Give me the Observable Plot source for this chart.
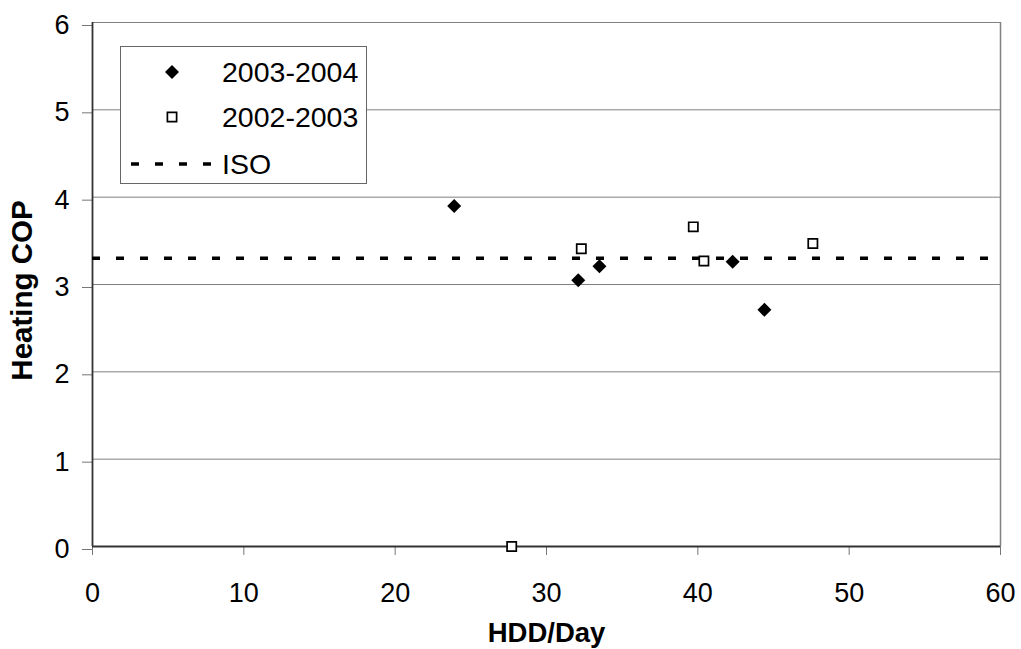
<!DOCTYPE html>
<html>
<head>
<meta charset="utf-8">
<script src="https://cdn.jsdelivr.net/npm/d3@7"></script>
<script src="https://cdn.jsdelivr.net/npm/@observablehq/plot@0.6"></script>
<style>
  html, body { margin: 0; padding: 0; background: #fff; }
  #wrap { position: relative; width: 1021px; height: 649px; font-family: "Liberation Sans", Arial, sans-serif; }
  #legend { position: absolute; left: 120px; top: 46px; width: 245px; height: 136px; border: 1px solid #666; background: #fff; }
</style>
</head>
<body>
<div id="wrap"></div>
<script>
// Data
const hdd0304 = [23.9, 32.1, 33.5, 42.3, 44.4];
const cop0304 = [3.90, 3.05, 3.21, 3.26, 2.71];
const hdd0203 = [27.7, 32.3, 39.7, 40.4, 47.6];
const cop0203 = [0.00, 3.41, 3.66, 3.27, 3.47];
const isoValue = 3.3;
const xTicks = [0, 10, 20, 30, 40, 50, 60];
const yTicks = [0, 1, 2, 3, 4, 5, 6];
const seriesNames = ["2003-2004", "2002-2003", "ISO"];
const xTitle = "HDD/Day";
const yTitle = "Heating COP";

const s0304 = hdd0304.map((x, i) => ({x, y: cop0304[i]}));
const s0203 = hdd0203.map((x, i) => ({x, y: cop0203[i]}));

const font = "Liberation Sans, Arial, sans-serif";

const chart = Plot.plot({
  width: 1021,
  height: 649,
  marginTop: 22,
  marginRight: 21,
  marginBottom: 103,
  marginLeft: 92,
  style: {fontFamily: font, fontSize: "27px", background: "#fff", color: "#000", overflow: "visible"},
  x: {domain: [0, 60]},
  y: {domain: [0, 6]},
  marks: [
    Plot.gridY(yTicks.filter(d => d > 0), {stroke: "#808080", strokeOpacity: 1, strokeWidth: 1}),
    Plot.ruleX([60], {stroke: "#808080", strokeWidth: 1.5}),
    Plot.axisX(xTicks, {tickSize: 9, tickPadding: 27, tickFormat: "d", stroke: "#777", fill: "#000", label: null}),
    Plot.axisY(yTicks, {tickSize: 10, tickPadding: 13, tickFormat: "d", stroke: "#777", fill: "#000", label: null, dy: 3}),
    Plot.ruleX([0], {stroke: "#333", strokeWidth: 1.8}),
    Plot.ruleY([0], {stroke: "#333", strokeWidth: 1.8}),
    Plot.ruleY([isoValue], {stroke: "#000", strokeWidth: 3.4, strokeDasharray: "8,16"}),
    Plot.dot(s0304, {x: "x", y: "y", symbol: "diamond2", r: 6.3, fill: "#000", stroke: "none"}),
    Plot.dot(s0203, {x: "x", y: "y", symbol: "square", r: 5.2, fill: "#fff", stroke: "#000", strokeWidth: 1.7}),
    Plot.text([xTitle], {frameAnchor: "bottom", dy: 87, fontSize: 27.5, fontWeight: "bold", fill: "#000", lineAnchor: "middle", textAnchor: "middle"}),
    Plot.text([yTitle], {frameAnchor: "left", dx: -70, dy: 6, rotate: -90, fontSize: 29.5, fontWeight: "bold", fill: "#000", lineAnchor: "middle", textAnchor: "middle"})
  ]
});

const wrap = document.getElementById("wrap");
wrap.appendChild(chart);

// Legend overlay
const legend = document.createElement("div");
legend.id = "legend";
const lsvg = d3.create("svg").attr("width", 245).attr("height", 136).style("display", "block");
const rowsY = [25, 70, 117];
lsvg.append("path")
  .attr("d", d3.symbol(d3.symbolDiamond2, Math.PI * 6.3 * 6.3)())
  .attr("transform", `translate(51,${rowsY[0]})`).attr("fill", "#000");
lsvg.append("path")
  .attr("d", d3.symbol(d3.symbolSquare, Math.PI * 5.2 * 5.2)())
  .attr("transform", `translate(51,${rowsY[1]})`).attr("fill", "#fff").attr("stroke", "#000").attr("stroke-width", 1.7);
lsvg.append("line").attr("x1", 10).attr("x2", 90).attr("y1", rowsY[2]).attr("y2", rowsY[2])
  .attr("stroke", "#000").attr("stroke-width", 3.4).attr("stroke-dasharray", "8,16");
seriesNames.forEach((name, i) => {
  lsvg.append("text").attr("x", 101).attr("y", rowsY[i]).attr("dy", "0.35em")
    .attr("font-family", font).attr("font-size", 28.5).attr("fill", "#000").text(name);
});
legend.appendChild(lsvg.node());
wrap.appendChild(legend);
</script>
</body>
</html>
